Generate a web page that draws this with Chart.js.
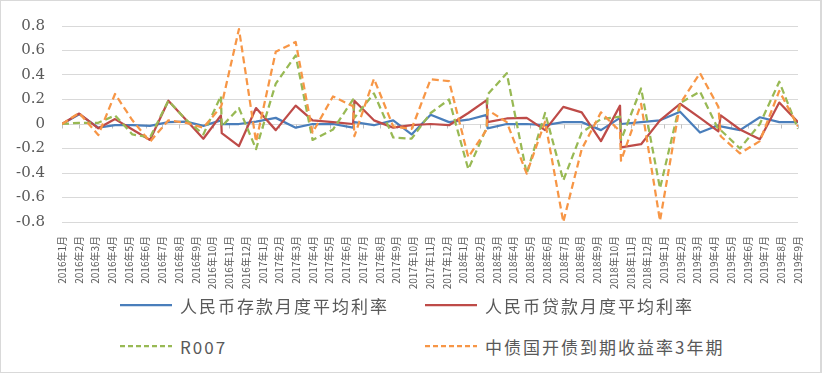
<!DOCTYPE html>
<html>
<head>
<meta charset="utf-8">
<script src="https://cdn.jsdelivr.net/npm/chart.js@4.4.0/dist/chart.umd.min.js"></script>
<style>
  body { margin: 0; background: #fff; }
  #wrap { position: relative; width: 822px; height: 374px; overflow: hidden; }
  #frame { position: absolute; left: 0; top: 0; width: 819px; height: 371px; border: 1px solid #d9d9d9; border-right-width: 2px; }
  #chart { position: absolute; left: 0; top: 0; }
  .item { position: absolute; height: 24px; display: flex; align-items: center;
          font: 17px "Noto Sans CJK SC", sans-serif; color: #595959; letter-spacing: 2px; white-space: nowrap; }
  .item svg { margin-right: 8px; }
</style>
</head>
<body>
<div id="wrap">
  <div id="frame"></div>
  <canvas id="chart" width="822" height="300"></canvas>
  <div id="legend"></div>
</div>
<script>
// month labels on the x axis
const months = [
  "2016年1月", "2016年2月", "2016年3月", "2016年4月", "2016年5月", "2016年6月",
  "2016年7月", "2016年8月", "2016年9月", "2016年10月", "2016年11月", "2016年12月",
  "2017年1月", "2017年2月", "2017年3月", "2017年4月", "2017年5月", "2017年6月",
  "2017年7月", "2017年8月", "2017年9月", "2017年10月", "2017年11月", "2017年12月",
  "2018年1月", "2018年2月", "2018年3月", "2018年4月", "2018年5月", "2018年6月",
  "2018年7月", "2018年8月", "2018年9月", "2018年10月", "2018年11月", "2018年12月",
  "2019年1月", "2019年2月", "2019年3月", "2019年4月", "2019年5月", "2019年6月",
  "2019年7月", "2019年8月", "2019年9月"
];

const obsPos = [
  0, 1.03, 2.17, 3.17, 4.21, 5.26, 6.36, 7.41, 8.45, 9.5,
  9.55, 10.58, 11.6, 12.78, 13.97, 14.98, 16.2, 17.4,
  17.48, 18.65, 19.8, 20.9, 22.04, 23.14, 24.29, 25.39,
  25.44, 26.59, 27.78, 28.88, 29.97, 31.07, 32.22, 33.36,
  33.42, 34.62, 35.75, 36.95, 38.14, 39.24,
  39.38, 40.53, 41.72, 42.88, 44
];

const depositRate = [
  0, 0.08, -0.03, -0.01, -0.01, -0.015, 0.015, 0.02, -0.015, 0.03,
  0, 0, 0.02, 0.05, -0.03, 0, 0, -0.03,
  0.015, -0.01, 0.03, -0.085, 0.075, 0.015, 0.035, 0.075,
  -0.035, 0, 0, -0.01, 0.015, 0.015, -0.05, 0.05,
  0, 0.015, 0.03, 0.1, -0.07, -0.01,
  -0.02, -0.05, 0.055, 0.015, 0.015
];

const loanRate = [
  0, 0.085, -0.035, 0.04, -0.045, -0.13, 0.19, 0.035, -0.12, 0.07,
  -0.075, -0.18, 0.13, -0.05, 0.15, 0.03, 0.015, 0,
  0.19, 0.03, -0.03, -0.01, 0, -0.01, 0.09, 0.195,
  0.015, 0.045, 0.05, -0.05, 0.14, 0.095, -0.14, 0.15,
  -0.19, -0.165, 0.03, 0.165, 0.05, -0.06,
  0.07, -0.045, -0.125, 0.175, 0.015
];

const r007 = [
  0, 0.01, 0.01, 0.07, -0.085, -0.11, 0.19, 0.035, -0.085, 0.23,
  -0.02, 0.13, -0.205, 0.33, 0.56, -0.13, -0.045, 0.2,
  0.05, 0.25, -0.11, -0.12, 0.09, 0.2, -0.37, -0.03,
  0.24, 0.415, -0.405, 0.09, -0.46, -0.07, 0.04, 0.06,
  -0.13, 0.29, -0.525, 0.17, 0.265, -0.045,
  -0.05, -0.2, 0, 0.345, -0.04
];

const cdb3y = [
  0, 0.09, -0.09, 0.245, 0.03, -0.145, 0.03, 0.01, -0.03, 0.14,
  0.16, 0.775, -0.145, 0.59, 0.67, -0.07, 0.225, 0.145,
  -0.1, 0.37, -0.02, -0.04, 0.365, 0.35, -0.27, -0.045,
  0.115, 0.015, -0.405, 0.02, -0.8, -0.205, 0.095, -0.06,
  -0.3, 0.165, -0.79, 0.165, 0.415, 0.14,
  -0.1, -0.24, -0.14, 0.27, -0.02
];

function toPoints(values) {
  return values.map((v, i) => ({ x: obsPos[i], y: v }));
}

// small tick marks hanging off the zero line, like the category axis in the original
const zeroTicks = {
  id: "zeroTicks",
  beforeDatasetsDraw(chart) {
    const { ctx, scales: { x, y } } = chart;
    const y0 = Math.round(y.getPixelForValue(0)) + 0.5;
    ctx.save();
    ctx.strokeStyle = "#bfbfbf";
    ctx.lineWidth = 1;
    ctx.beginPath();
    months.forEach((m, i) => {
      const px = Math.round(x.getPixelForValue(i)) + 0.5;
      ctx.moveTo(px, y0);
      ctx.lineTo(px, y0 + 4);
    });
    ctx.stroke();
    ctx.restore();
  }
};

const chart = new Chart("chart", {
  type: "line",
  data: {
    datasets: [
      { label: "人民币存款月度平均利率", data: toPoints(depositRate), borderColor: "#4a7ebb", order: 3 },
      { label: "人民币贷款月度平均利率", data: toPoints(loanRate), borderColor: "#be4b48", order: 2 },
      { label: "R007", data: toPoints(r007), borderColor: "#98b954", borderDash: [7, 4], order: 1 },
      { label: "中债国开债到期收益率3年期", data: toPoints(cdb3y), borderColor: "#f79646", borderDash: [7, 4], order: 0 }
    ]
  },
  options: {
    responsive: false,
    animation: false,
    devicePixelRatio: 1,
    layout: { padding: { top: 23, right: 24, bottom: 0, left: 0 } },
    elements: {
      line: { borderWidth: 2.25, tension: 0, borderJoinStyle: "round", fill: false },
      point: { radius: 0, hoverRadius: 0 }
    },
    plugins: { legend: { display: false }, tooltip: { enabled: false } },
    scales: {
      x: {
        type: "linear",
        min: 0,
        max: 44,
        grid: { display: false },
        border: { display: false },
        ticks: {
          stepSize: 1,
          autoSkip: false,
          maxTicksLimit: 100,
          minRotation: 90,
          maxRotation: 90,
          padding: 6,
          color: "#595959",
          font: { family: "'Noto Sans CJK SC'", size: 10 },
          callback: (v) => months[Math.round(v)]
        },
        afterFit: (s) => { s.height = 78; }
      },
      y: {
        min: -0.8,
        max: 0.8,
        grid: { color: "#d9d9d9", drawTicks: false },
        border: { display: false },
        ticks: {
          stepSize: 0.2,
          padding: 17,
          color: "#595959",
          font: { family: "'DejaVu Serif'", size: 15 },
          callback: (v) => {
            const r = Math.round(v * 10) / 10;
            return r === 0 ? "0" : r.toFixed(1);
          }
        },
        afterFit: (s) => { s.width = 62; }
      }
    }
  },
  plugins: [zeroTicks]
});

// legend laid out in two columns like the original
const legendPos = [
  { left: 120, top: 293 },
  { left: 425, top: 293 },
  { left: 120, top: 334 },
  { left: 425, top: 334 }
];
const legend = document.getElementById("legend");
chart.data.datasets.forEach((ds, i) => {
  const item = document.createElement("div");
  item.className = "item";
  item.style.left = legendPos[i].left + "px";
  item.style.top = legendPos[i].top + "px";
  const dash = ds.borderDash ? 'stroke-dasharray="5 3"' : "";
  item.innerHTML =
    '<svg width="52" height="6"><line x1="0" y1="3" x2="52" y2="3" stroke="' + ds.borderColor +
    '" stroke-width="2.25" ' + dash + '/></svg><span>' + ds.label + "</span>";
  legend.appendChild(item);
});
</script>
</body>
</html>
